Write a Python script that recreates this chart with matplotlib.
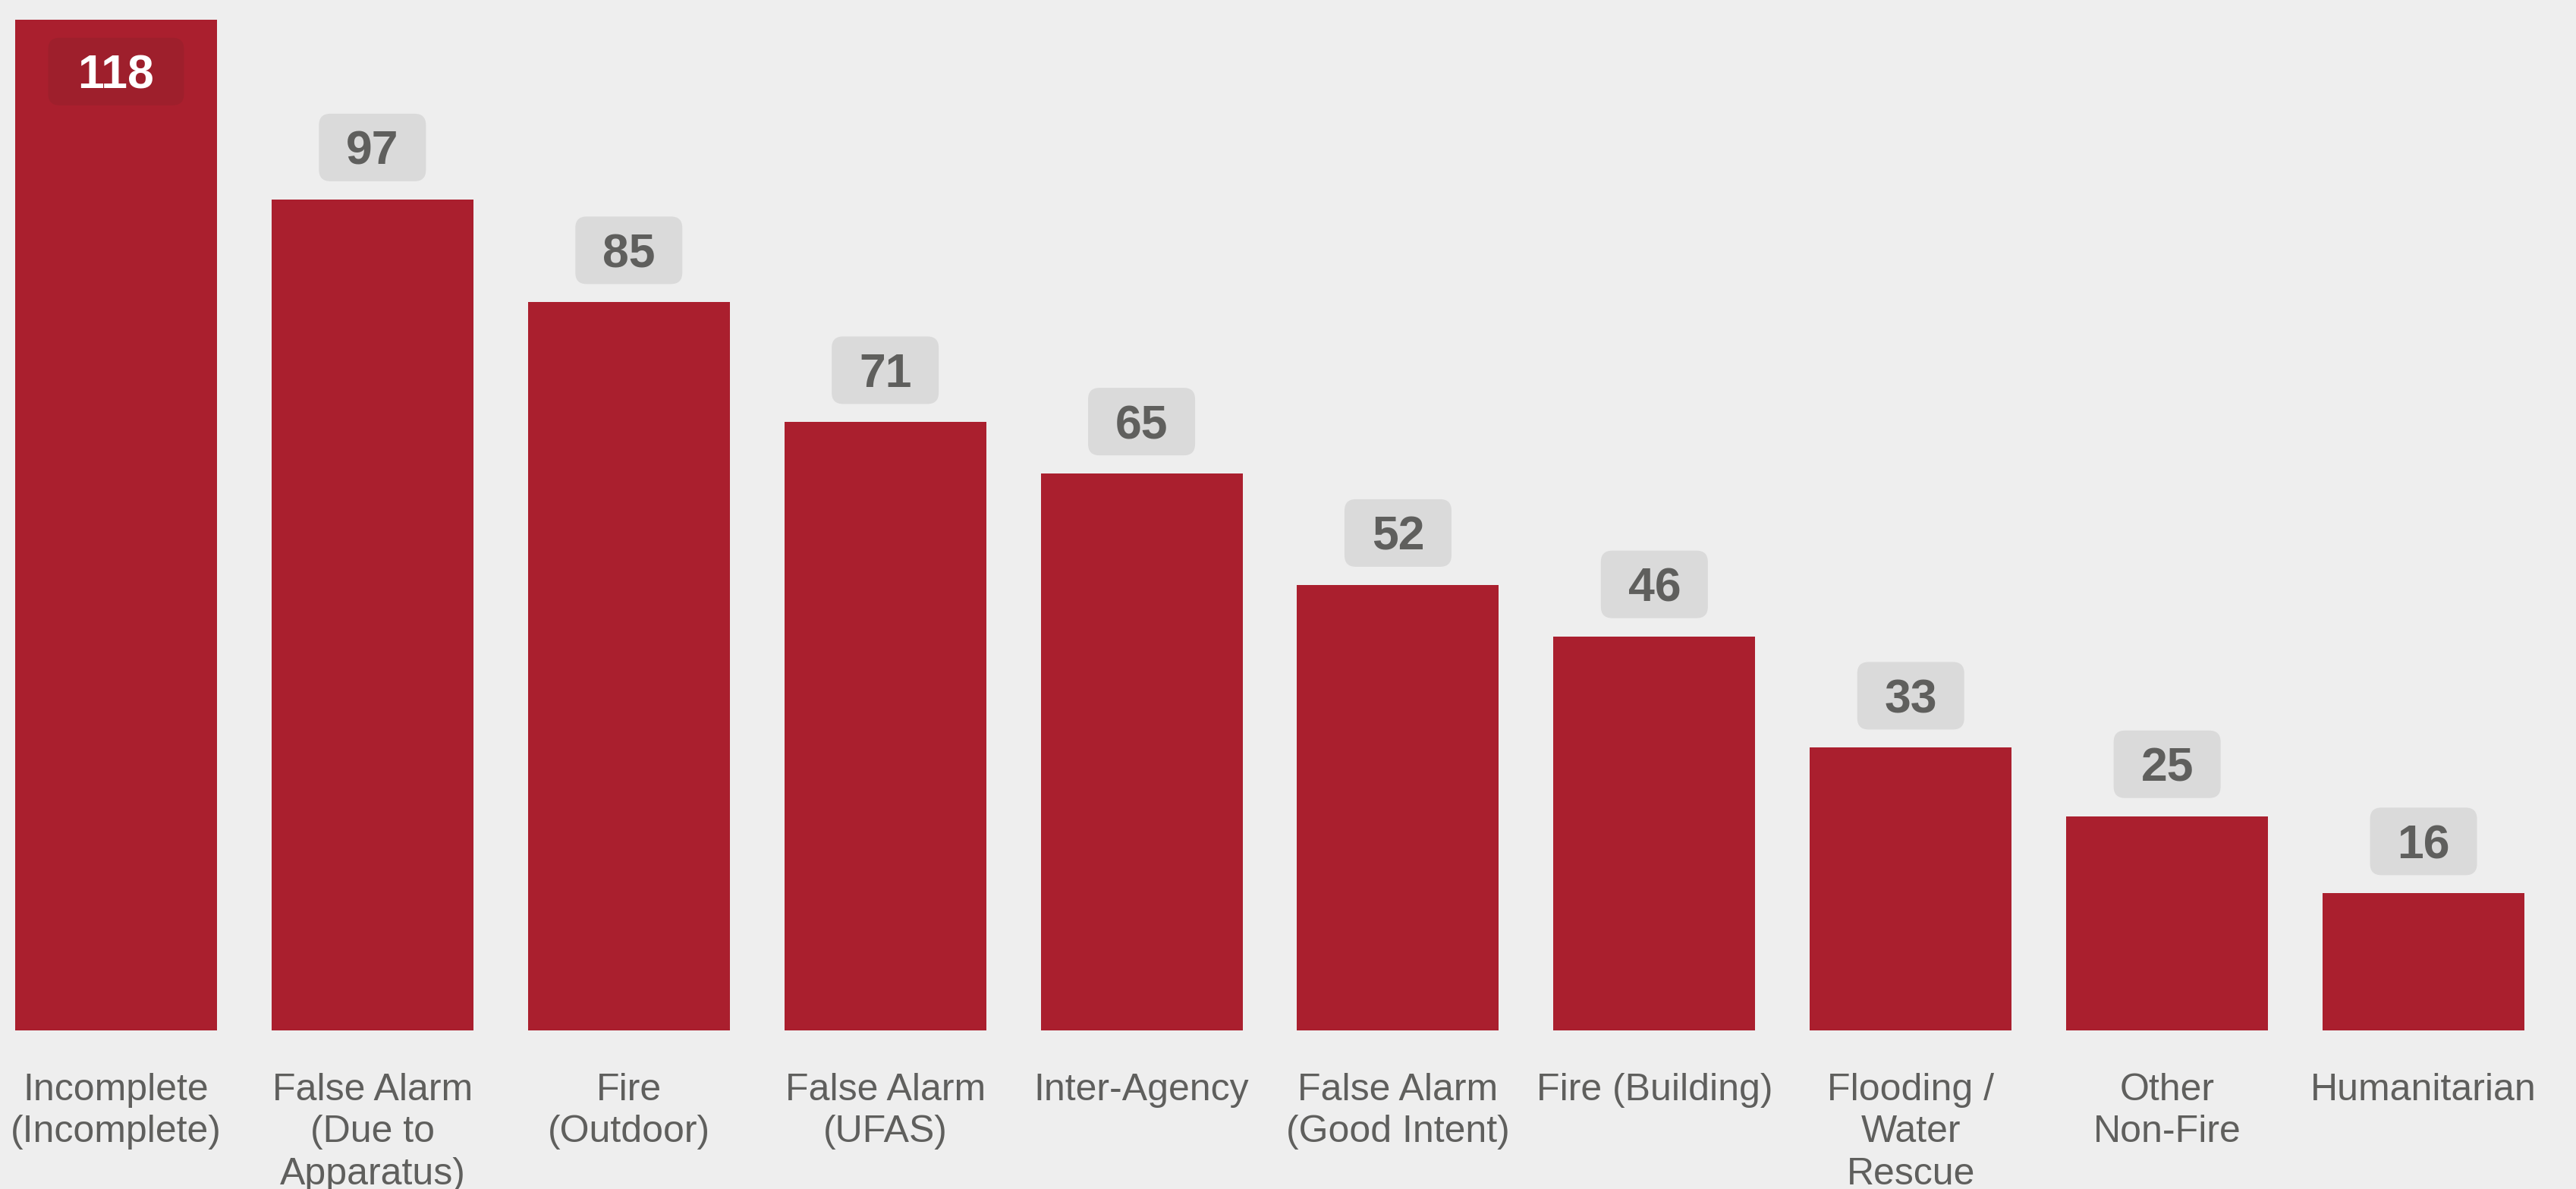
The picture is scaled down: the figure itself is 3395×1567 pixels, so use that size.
import matplotlib
matplotlib.use("Agg")
import matplotlib.pyplot as plt
import matplotlib.transforms as mtransforms
from matplotlib.patches import FancyBboxPatch

categories = [
    "Incomplete\n(Incomplete)",
    "False Alarm\n(Due to\nApparatus)",
    "Fire\n(Outdoor)",
    "False Alarm\n(UFAS)",
    "Inter-Agency",
    "False Alarm\n(Good Intent)",
    "Fire (Building)",
    "Flooding /\nWater\nRescue",
    "Other\nNon-Fire",
    "Humanitarian",
]
counts = [118, 97, 85, 71, 65, 52, 46, 33, 25, 16]

bg = "#eeeeee"
bar_color = "#aa1f2e"
text_gray = "#5f5f5d"
box_gray = "#dadada"
box_dark = "#9e1f2c"

plt.rcParams["font.family"] = ["Liberation Sans", "DejaVu Sans"]

dpi = 100
fig = plt.figure(figsize=(33.95, 15.67), dpi=dpi, facecolor=bg)
W, H = 3395, 1567
ax = fig.add_axes([20 / W, 1 - 1358 / H, (3327 - 20) / W, 1358 / H])
ax.set_facecolor(bg)

width = 0.787
x = list(range(len(counts)))
ax.bar(x, counts, width=width, color=bar_color, zorder=2)
ax.set_xlim(-width / 2, len(counts) - 1 + width / 2)
ax.set_ylim(0, 1358 / 11.29)

for s in ax.spines.values():
    s.set_visible(False)
ax.set_yticks([])
ax.set_xticks(x)
ax.set_xticklabels(categories, fontsize=36, color=text_gray, linespacing=1.27)
ax.tick_params(axis="x", length=0, pad=40)

# value labels in rounded boxes (sizes in pixels)
box_h = 89
gap = 24
pt = 72 / dpi
for i, v in enumerate(counts):
    inside = v == max(counts)
    label = str(v)
    box_w = 141 if len(label) < 3 else 179
    anchor = mtransforms.ScaledTranslation(i, v, ax.transData)
    if inside:
        y0 = -gap - box_h
        fc, tc = box_dark, "white"
    else:
        y0 = gap
        fc, tc = box_gray, text_gray
    box = FancyBboxPatch((-box_w / 2, y0), box_w, box_h,
                         boxstyle="round,pad=0,rounding_size=15",
                         transform=anchor, facecolor=fc, edgecolor="none",
                         clip_on=False, zorder=3)
    ax.add_artist(box)
    base = y0 + box_h / 2 - 22.5
    ax.annotate(label, xy=(i, v), xytext=(0, base * pt), textcoords="offset points",
                ha="center", va="baseline", fontsize=45, fontweight="bold",
                color=tc, zorder=4, annotation_clip=False)

fig.savefig("out.png", dpi=dpi, facecolor=bg)
